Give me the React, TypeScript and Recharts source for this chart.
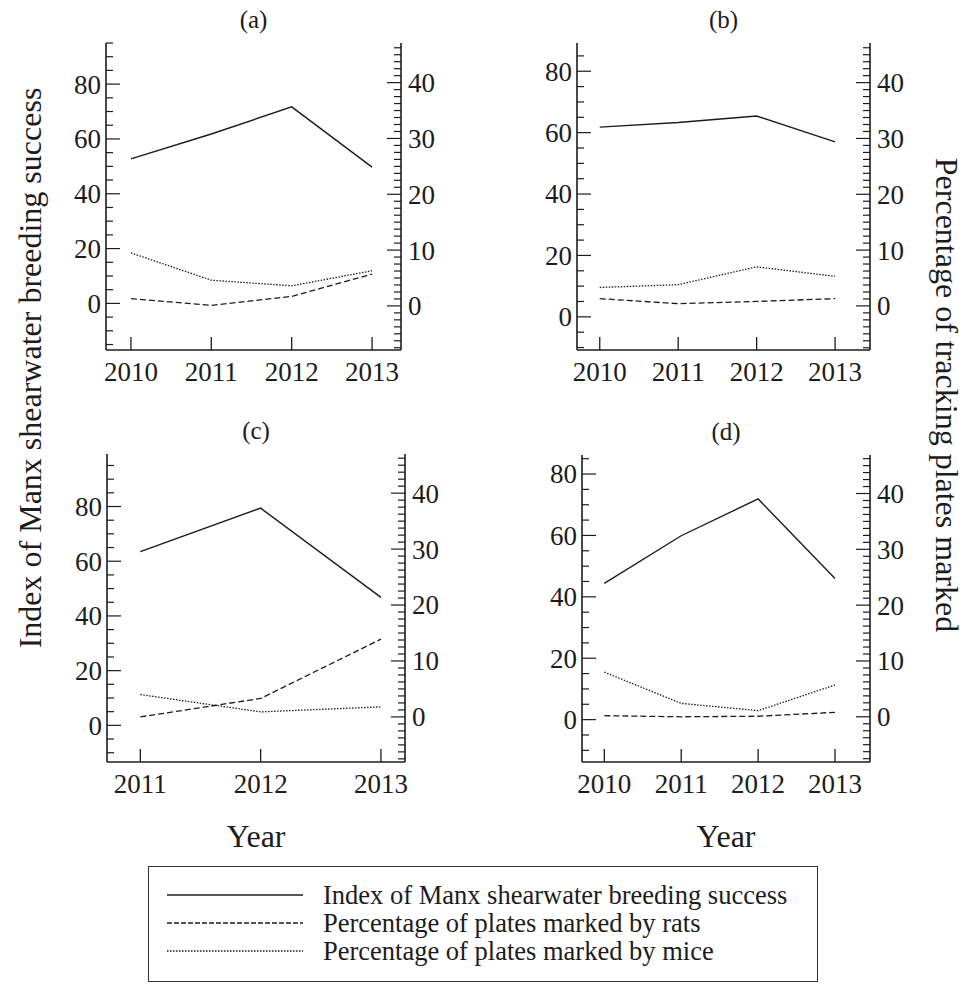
import React from 'react';
import { LineChart, Line, XAxis, YAxis } from 'recharts';

// years on the x axis
const yearsFour = [2010, 2011, 2012, 2013];
const yearsThree = [2011, 2012, 2013];

// (a)
const breedingA = [52.7, 61.8, 71.7, 49.7];
const ratsA = [1.3, 0.1, 1.7, 5.7];
const miceA = [9.5, 4.6, 3.6, 6.3];
// (b)
const breedingB = [61.8, 63.3, 65.4, 57.0];
const ratsB = [1.3, 0.4, 0.8, 1.3];
const miceB = [3.3, 3.8, 7.0, 5.3];
// (c)
const breedingC = [63.5, 79.4, 46.8];
const ratsC = [0.0, 3.3, 13.9];
const miceC = [4.0, 0.9, 1.8];
// (d)
const breedingD = [44.4, 59.9, 71.9, 46.0];
const ratsD = [0.2, 0.0, 0.1, 0.8];
const miceD = [8.0, 2.4, 1.1, 5.7];

const leftLabels = [0, 20, 40, 60, 80];
const rightLabels = [0, 10, 20, 30, 40];

const FONT = 'Liberation Serif, Times New Roman, serif';
const INK = '#1c1c1c';
const PAD_X = 60;
const PAD_TOP = 40;
const PAD_BOTTOM = 50;

const buildRows = (years: number[], breeding: number[], rats: number[], mice: number[]) =>
  years.map((year, i) => ({ year, breeding: breeding[i], rats: rats[i], mice: mice[i] }));

const stepTicks = (lo: number, hi: number, step: number) => {
  const out: number[] = [];
  for (let v = Math.ceil(lo / step) * step; v <= hi + 1e-9; v += step) out.push(+v.toFixed(3));
  return out;
};

const tickText: React.CSSProperties = { fontFamily: FONT, fontSize: 27, fill: INK };

const BottomTick = ({ x, y, payload }: any) => (
  <g>
    <line x1={x} x2={x} y1={y} y2={y - 13} stroke={INK} strokeWidth={1.3} />
    <text x={x} y={y + 31} textAnchor="middle" fontFamily={FONT} style={tickText}>
      {payload.value}
    </text>
  </g>
);

const TopTick = ({ x, y }: any) => (
  <line x1={x} x2={x} y1={y} y2={y + 13} stroke={INK} strokeWidth={1.3} />
);

const LeftTick = ({ x, y, payload }: any) => {
  const major = leftLabels.includes(payload.value);
  return (
    <g>
      <line x1={x} x2={x + (major ? 14 : 7)} y1={y} y2={y} stroke={INK} strokeWidth={1.2} />
      {major && (
        <text x={x - 5} y={y} dy="0.35em" textAnchor="end" fontFamily={FONT} style={tickText}>
          {payload.value}
        </text>
      )}
    </g>
  );
};

const RightTick = ({ x, y, payload }: any) => {
  const major = rightLabels.includes(payload.value);
  return (
    <g>
      <line x1={x} x2={x - (major ? 14 : 7)} y1={y} y2={y} stroke={INK} strokeWidth={1.2} />
      {major && (
        <text x={x + 7} y={y} dy="0.35em" textAnchor="start" fontFamily={FONT} style={tickText}>
          {payload.value}
        </text>
      )}
    </g>
  );
};

interface PanelProps {
  label: string;
  box: { x0: number; x1: number; y0: number; y1: number };
  rows: { year: number; breeding: number; rats: number; mice: number }[];
  years: number[];
  xDomain: [number, number];
  leftDomain: [number, number];
  rightDomain: [number, number];
}

const Panel: React.FC<PanelProps> = ({ label, box, rows, years, xDomain, leftDomain, rightDomain }) => {
  const w = box.x1 - box.x0 + 2 * PAD_X;
  const h = box.y1 - box.y0 + PAD_TOP + PAD_BOTTOM;
  const axisLine = { stroke: INK, strokeWidth: 1.6 };
  return (
    <div style={{ position: 'absolute', left: box.x0 - PAD_X, top: box.y0 - PAD_TOP, width: w, height: h }}>
      <div
        style={{
          position: 'absolute',
          left: 0,
          width: w,
          top: PAD_TOP - 38,
          textAlign: 'center',
          fontFamily: FONT,
          fontSize: 25,
          lineHeight: '30px',
          color: INK,
        }}
      >
        {label}
      </div>
      <LineChart
        width={w}
        height={h}
        data={rows}
        margin={{ top: PAD_TOP, right: 0, bottom: 0, left: 0 }}
        style={{ fontFamily: FONT }}
      >
        <XAxis
          xAxisId="b"
          dataKey="year"
          type="number"
          domain={xDomain}
          ticks={years}
          interval={0}
          allowDataOverflow
          height={PAD_BOTTOM}
          tickSize={0}
          tickMargin={0}
          axisLine={axisLine}
          tick={(p: any) => <BottomTick {...p} />}
        />
        <XAxis
          xAxisId="t"
          orientation="top"
          dataKey="year"
          type="number"
          domain={xDomain}
          ticks={years}
          interval={0}
          allowDataOverflow
          height={0}
          tickSize={0}
          tickMargin={0}
          axisLine={axisLine}
          tick={(p: any) => <TopTick {...p} />}
        />
        <YAxis
          yAxisId="l"
          type="number"
          domain={leftDomain}
          ticks={stepTicks(leftDomain[0], leftDomain[1], 5)}
          interval={0}
          allowDataOverflow
          width={PAD_X}
          tickSize={0}
          tickMargin={0}
          axisLine={axisLine}
          tick={(p: any) => <LeftTick {...p} />}
        />
        <YAxis
          yAxisId="r"
          orientation="right"
          type="number"
          domain={rightDomain}
          ticks={stepTicks(rightDomain[0], rightDomain[1], 1.25)}
          interval={0}
          allowDataOverflow
          width={PAD_X}
          tickSize={0}
          tickMargin={0}
          axisLine={axisLine}
          tick={(p: any) => <RightTick {...p} />}
        />
        <Line xAxisId="b" yAxisId="l" type="linear" dataKey="breeding" stroke={INK} strokeWidth={1.4} dot={false} isAnimationActive={false} />
        <Line xAxisId="b" yAxisId="r" type="linear" dataKey="rats" stroke={INK} strokeWidth={1.3} strokeDasharray="6 3" dot={false} isAnimationActive={false} />
        <Line xAxisId="b" yAxisId="r" type="linear" dataKey="mice" stroke={INK} strokeWidth={1.3} strokeDasharray="1.5 1.5" dot={false} isAnimationActive={false} />
      </LineChart>
    </div>
  );
};

const legendItems = [
  { text: 'Index of Manx shearwater breeding success', dash: undefined },
  { text: 'Percentage of plates marked by rats', dash: '5 2' },
  { text: 'Percentage of plates marked by mice', dash: '1.5 1.5' },
];

const textStyle: React.CSSProperties = {
  position: 'absolute',
  fontFamily: FONT,
  color: INK,
  whiteSpace: 'nowrap',
};

export default function App() {
  return (
    <div style={{ position: 'absolute', left: 0, top: 0, width: 964, height: 984, background: '#fff', overflow: 'hidden' }}>
      <Panel
        label="(a)"
        box={{ x0: 106, x1: 401, y0: 43, y1: 350 }}
        rows={buildRows(yearsFour, breedingA, ratsA, miceA)}
        years={yearsFour}
        xDomain={[2009.69, 2013.36]}
        leftDomain={[-17, 95]}
        rightDomain={[-7.9, 47.1]}
      />
      <Panel
        label="(b)"
        box={{ x0: 577, x1: 870, y0: 43, y1: 350 }}
        rows={buildRows(yearsFour, breedingB, ratsB, miceB)}
        years={yearsFour}
        xDomain={[2009.71, 2013.445]}
        leftDomain={[-10.8, 89.2]}
        rightDomain={[-7.9, 47.1]}
      />
      <Panel
        label="(c)"
        box={{ x0: 107, x1: 405, y0: 454, y1: 762 }}
        rows={buildRows(yearsThree, breedingC, ratsC, miceC)}
        years={yearsThree}
        xDomain={[2010.723, 2013.2]}
        leftDomain={[-13.4, 99.2]}
        rightDomain={[-8.06, 47.0]}
      />
      <Panel
        label="(d)"
        box={{ x0: 582, x1: 870, y0: 455, y1: 762 }}
        rows={buildRows(yearsFour, breedingD, ratsD, miceD)}
        years={yearsFour}
        xDomain={[2009.71, 2013.455]}
        leftDomain={[-13.8, 86.2]}
        rightDomain={[-8.1, 46.9]}
      />

      <div style={{ ...textStyle, left: 30, top: 368, fontSize: 32, transform: 'translate(-50%, -50%) rotate(-90deg)' }}>
        Index of Manx shearwater breeding success
      </div>
      <div style={{ ...textStyle, left: 946, top: 395, fontSize: 32, transform: 'translate(-50%, -50%) rotate(90deg)' }}>
        Percentage of tracking plates marked
      </div>

      <div style={{ ...textStyle, left: 256, top: 836, fontSize: 32, transform: 'translate(-50%, -50%)' }}>Year</div>
      <div style={{ ...textStyle, left: 726, top: 836, fontSize: 32, transform: 'translate(-50%, -50%)' }}>Year</div>

      <div
        style={{
          position: 'absolute',
          left: 148,
          top: 866,
          width: 670,
          height: 116,
          border: '1.5px solid #333',
          boxSizing: 'border-box',
        }}
      >
        {legendItems.map((item, i) => (
          <div key={item.text} style={{ position: 'absolute', left: 0, top: 14 + i * 28, height: 28, width: 670 }}>
            <svg width={140} height={28} style={{ position: 'absolute', left: 18, top: 0 }}>
              <line x1={0} x2={136} y1={14} y2={14} stroke={INK} strokeWidth={1.3} strokeDasharray={item.dash} />
            </svg>
            <div style={{ ...textStyle, left: 174, top: 0, fontSize: 26.5, lineHeight: '28px' }}>{item.text}</div>
          </div>
        ))}
      </div>
    </div>
  );
}
